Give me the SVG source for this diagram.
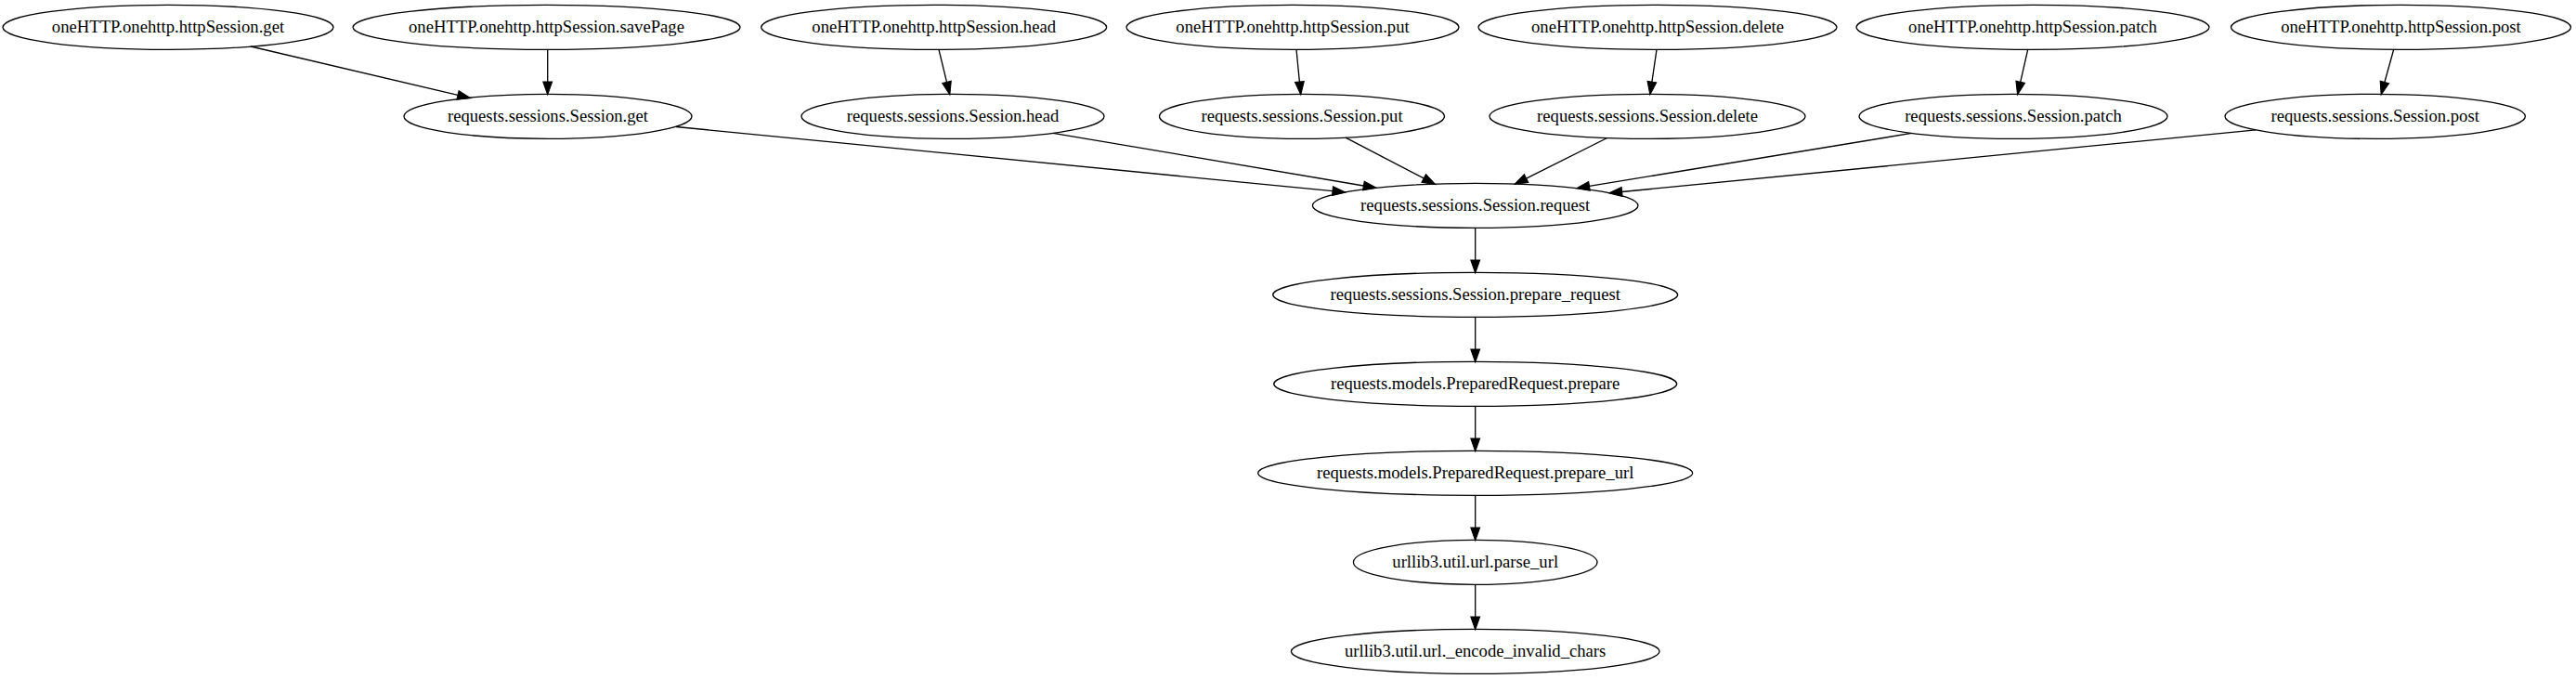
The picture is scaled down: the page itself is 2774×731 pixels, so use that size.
<svg xmlns="http://www.w3.org/2000/svg" width="2774" height="731" viewBox="0 0 2774 731">
<style>
.node ellipse{fill:none;stroke:#000;stroke-width:1.33}
.node text{font-family:"Liberation Serif","Times New Roman",serif;font-size:18.67px;text-anchor:middle;fill:#000}
.edges path{fill:none;stroke:#000;stroke-width:1.33;marker-end:url(#arr)}
</style>
<defs>
<marker id="arr" markerUnits="userSpaceOnUse" markerWidth="14" markerHeight="10" viewBox="0 0 10 7" refX="0" refY="3.5" orient="auto" overflow="visible">
<path d="M0,0 L10,3.5 L0,7 z" fill="#000" stroke="#000" stroke-width="0.75"/>
</marker>
</defs>
<rect width="2774" height="731" fill="#fff"/>
<g class="edges">
<path d="M270,50 L493,102.4"/>
<path d="M589.7,53.3 L589.7,88"/>
<path d="M1011,53.3 L1019.5,88.35"/>
<path d="M1396,53.3 L1399.4,88"/>
<path d="M1784,53.3 L1778.9,88.1"/>
<path d="M2183.7,53.3 L2175.7,88.3"/>
<path d="M2577.7,53.2 L2567.9,88.5"/>
<path d="M728,136.5 L1435,205.7"/>
<path d="M1134,143.3 L1468.4,200"/>
<path d="M1449,148.2 L1533.2,191.95"/>
<path d="M1730.7,148.5 L1643.6,192.1"/>
<path d="M2058.7,143.4 L1711.5,200.4"/>
<path d="M2429.3,139.9 L1746.6,206.5"/>
<path d="M1588.7,245.3 L1588.7,280"/>
<path d="M1588.7,341.3 L1588.7,376"/>
<path d="M1588.7,437.3 L1588.7,472"/>
<path d="M1588.7,533.3 L1588.7,568"/>
<path d="M1588.7,629.3 L1588.7,664"/>
</g>
<g id="n_get" class="node"><ellipse cx="181" cy="29.33" rx="178" ry="24"/><text x="181" y="34.93">oneHTTP.onehttp.httpSession.get</text></g>
<g id="n_savePage" class="node"><ellipse cx="588.5" cy="29.33" rx="208.5" ry="24"/><text x="588.5" y="34.93">oneHTTP.onehttp.httpSession.savePage</text></g>
<g id="n_head" class="node"><ellipse cx="1005.7" cy="29.33" rx="186" ry="24"/><text x="1005.7" y="34.93">oneHTTP.onehttp.httpSession.head</text></g>
<g id="n_put" class="node"><ellipse cx="1392" cy="29.33" rx="179" ry="24"/><text x="1392" y="34.93">oneHTTP.onehttp.httpSession.put</text></g>
<g id="n_delete" class="node"><ellipse cx="1785" cy="29.33" rx="193" ry="24"/><text x="1785" y="34.93">oneHTTP.onehttp.httpSession.delete</text></g>
<g id="n_patch" class="node"><ellipse cx="2189" cy="29.33" rx="190" ry="24"/><text x="2189" y="34.93">oneHTTP.onehttp.httpSession.patch</text></g>
<g id="n_post" class="node"><ellipse cx="2585.5" cy="29.33" rx="183" ry="24"/><text x="2585.5" y="34.93">oneHTTP.onehttp.httpSession.post</text></g>
<g id="s_get" class="node"><ellipse cx="590" cy="125.33" rx="155" ry="24"/><text x="590" y="130.93">requests.sessions.Session.get</text></g>
<g id="s_head" class="node"><ellipse cx="1026" cy="125.33" rx="163" ry="24"/><text x="1026" y="130.93">requests.sessions.Session.head</text></g>
<g id="s_put" class="node"><ellipse cx="1402" cy="125.33" rx="153.5" ry="24"/><text x="1402" y="130.93">requests.sessions.Session.put</text></g>
<g id="s_delete" class="node"><ellipse cx="1774" cy="125.33" rx="170" ry="24"/><text x="1774" y="130.93">requests.sessions.Session.delete</text></g>
<g id="s_patch" class="node"><ellipse cx="2168" cy="125.33" rx="166" ry="24"/><text x="2168" y="130.93">requests.sessions.Session.patch</text></g>
<g id="s_post" class="node"><ellipse cx="2557.7" cy="125.33" rx="161.7" ry="24"/><text x="2557.7" y="130.93">requests.sessions.Session.post</text></g>
<g id="s_request" class="node"><ellipse cx="1588.7" cy="221.33" rx="175.3" ry="24"/><text x="1588.7" y="226.93">requests.sessions.Session.request</text></g>
<g id="s_prepare_request" class="node"><ellipse cx="1588.7" cy="317.33" rx="218" ry="24"/><text x="1588.7" y="322.93">requests.sessions.Session.prepare_request</text></g>
<g id="m_prepare" class="node"><ellipse cx="1588.7" cy="413.33" rx="217" ry="24"/><text x="1588.7" y="418.93">requests.models.PreparedRequest.prepare</text></g>
<g id="m_prepare_url" class="node"><ellipse cx="1588.7" cy="509.33" rx="234" ry="24"/><text x="1588.7" y="514.93">requests.models.PreparedRequest.prepare_url</text></g>
<g id="u_parse_url" class="node"><ellipse cx="1588.7" cy="605.33" rx="131.3" ry="24"/><text x="1588.7" y="610.93">urllib3.util.url.parse_url</text></g>
<g id="u_encode" class="node"><ellipse cx="1588.7" cy="701.33" rx="198.3" ry="24"/><text x="1588.7" y="706.93">urllib3.util.url._encode_invalid_chars</text></g>
</svg>
